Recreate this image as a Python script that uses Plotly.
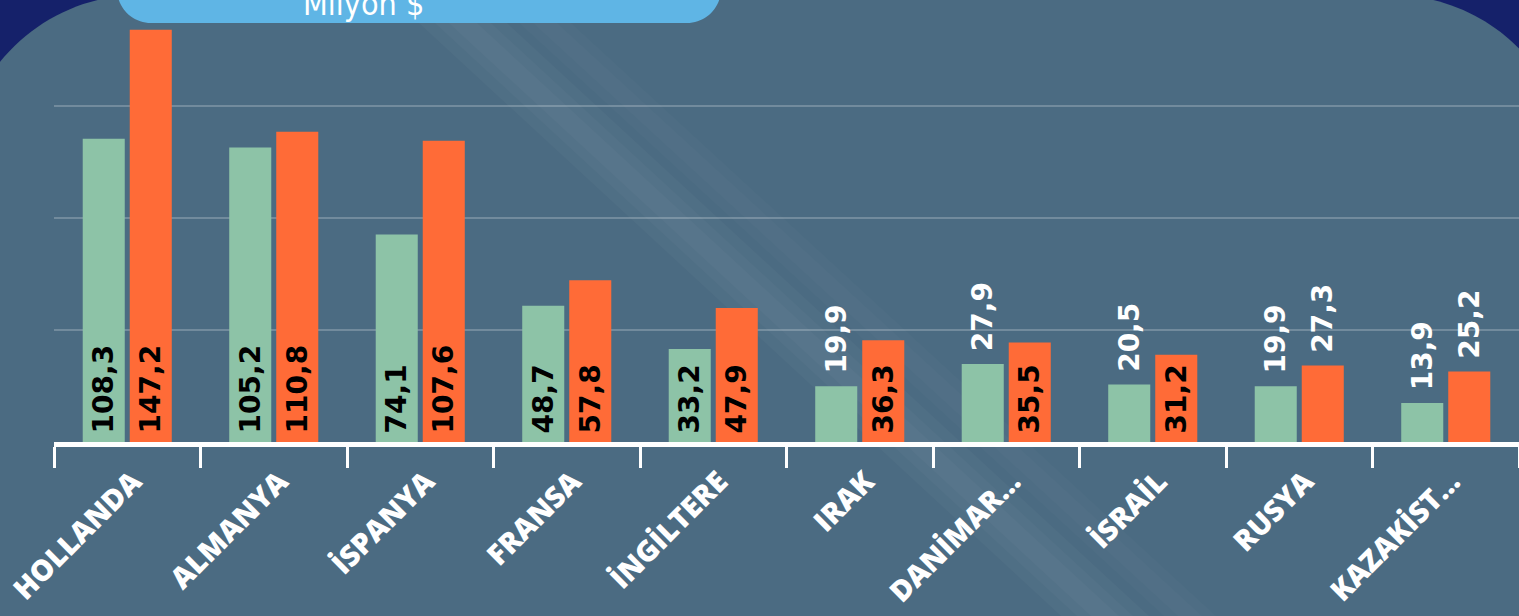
import plotly.graph_objects as go

# ---------------- data ----------------
categories = ["HOLLANDA", "ALMANYA", "İSPANYA", "FRANSA", "İNGİLTERE",
              "IRAK", "DANİMAR...", "İSRAİL", "RUSYA", "KAZAKİST..."]
series_green = [108.3, 105.2, 74.1, 48.7, 33.2, 19.9, 27.9, 20.5, 19.9, 13.9]
series_orange = [147.2, 110.8, 107.6, 57.8, 47.9, 36.3, 35.5, 31.2, 27.3, 25.2]
green_text_pos = ["inside"] * 5 + ["outside"] * 5
orange_text_pos = ["inside"] * 8 + ["outside"] * 2
unit_label = "Milyon $"

# ---------------- geometry helpers (decoration only) ----------------
W, H = 1519, 616
ML, MR, MT, MB = 54, 0, 0, 174
PW, PH = W - ML - MR, H - MT - MB


def px(x):
    return (x - ML) / PW


def py(y):
    return (H - MB - y) / PH


def rounded_path(x0, y0, x1, y1, r, k=0.5523):
    c = r * k
    pts = [
        ("M", [(x0 + r, y0)]),
        ("L", [(x1 - r, y0)]),
        ("C", [(x1 - r + c, y0), (x1, y0 + r - c), (x1, y0 + r)]),
        ("L", [(x1, y1 - r)]),
        ("C", [(x1, y1 - r + c), (x1 - r + c, y1), (x1 - r, y1)]),
        ("L", [(x0 + r, y1)]),
        ("C", [(x0 + r - c, y1), (x0, y1 - r + c), (x0, y1 - r)]),
        ("L", [(x0, y0 + r)]),
        ("C", [(x0, y0 + r - c), (x0 + r - c, y0), (x0 + r, y0)]),
    ]
    s = ""
    for cmd, ps in pts:
        s += cmd + " " + " ".join(f"{px(a):.5f},{py(b):.5f}" for a, b in ps) + " "
    return s + "Z"


def poly_path(points):
    s = "M " + " L ".join(f"{px(a):.5f},{py(b):.5f}" for a, b in points)
    return s + " Z"


fmt_in = lambda v: "\u2009" + f"{v:.1f}".replace(".", ",")
fmt_out = lambda v: "\u00a0" + f"{v:.1f}".replace(".", ",")


def labels(vals, pos):
    return [fmt_in(v) if p == "inside" else fmt_out(v) for v, p in zip(vals, pos)]


bar_font_in = dict(family="DejaVu Sans", size=28, color="#000000", weight="bold")
bar_font_out = dict(family="DejaVu Sans", size=28, color="#ffffff", weight="bold")

fig = go.Figure()
fig.add_trace(go.Bar(
    x=categories, y=series_green, name="2013",
    marker=dict(color="#8dc3a7", line=dict(width=0)),
    text=labels(series_green, green_text_pos),
    textposition=green_text_pos, textangle=-90,
    insidetextanchor="start", constraintext="none",
    insidetextfont=bar_font_in, outsidetextfont=bar_font_out,
    cliponaxis=False,
))
fig.add_trace(go.Bar(
    x=categories, y=series_orange, name="2014",
    marker=dict(color="#ff6b37", line=dict(width=0)),
    text=labels(series_orange, orange_text_pos),
    textposition=orange_text_pos, textangle=-90,
    insidetextanchor="start", constraintext="none",
    insidetextfont=bar_font_in, outsidetextfont=bar_font_out,
    cliponaxis=False,
))

shapes = []
# main panel
shapes.append(dict(type="path", xref="paper", yref="paper", layer="below",
                   path=rounded_path(-40, -5, 1571, 760, 180),
                   fillcolor="#4b6b82", line=dict(width=0)))
# soft light diagonal streaks (layered for soft edges)
for half in (14, 28, 44):
    shapes.append(dict(type="path", xref="paper", yref="paper", layer="below",
                       path=poly_path([(438 - half, 0), (438 + half, 0),
                                       (1105 + half, 616), (1105 - half, 616)]),
                       fillcolor="#ffffff", opacity=0.028, line=dict(width=0)))
for half in (12, 26):
    shapes.append(dict(type="path", xref="paper", yref="paper", layer="below",
                       path=poly_path([(520 - half, 0), (520 + half, 0),
                                       (1190 + half, 616), (1190 - half, 616)]),
                       fillcolor="#ffffff", opacity=0.018, line=dict(width=0)))
# title pill
shapes.append(dict(type="path", xref="paper", yref="paper", layer="below",
                   path=rounded_path(117, -40, 721, 23, 34),
                   fillcolor="#5fb5e5", line=dict(width=0)))

fig.update_layout(
    width=W, height=H,
    margin=dict(l=ML, r=MR, t=MT, b=MB, pad=0),
    paper_bgcolor="#15216a", plot_bgcolor="rgba(0,0,0,0)",
    barmode="group", bargap=0.358, bargroupgap=0.106,
    showlegend=False,
    shapes=shapes,
    annotations=[dict(
        text=unit_label, xref="paper", yref="paper",
        x=px(363), y=py(25), xanchor="center", yanchor="bottom",
        showarrow=False,
        font=dict(family="DejaVu Sans Condensed, Liberation Sans Narrow, Roboto Condensed, Roboto",
                  size=32, color="#ffffff"),
    )],
    xaxis=dict(
        type="category", showline=True, linecolor="#ffffff", linewidth=5,
        ticks="outside", tickson="boundaries", ticklen=21, tickwidth=3,
        tickcolor="#ffffff", tickangle=-45, showgrid=False,
        ticklabelstandoff=6, ticklabelshift=6,
        tickfont=dict(family="Open Sans", size=29, color="#ffffff", weight=800),
        fixedrange=True,
    ),
    yaxis=dict(
        range=[0, PH / 2.8], dtick=40, showticklabels=False, showgrid=True,
        gridcolor="rgba(255,255,255,0.22)", gridwidth=2, zeroline=False,
        showline=False, ticks="", fixedrange=True,
    ),
)

fig.write_html("out.html", config={"displayModeBar": False},
               post_script="document.body.style.margin='0';document.body.style.overflow='hidden';")
